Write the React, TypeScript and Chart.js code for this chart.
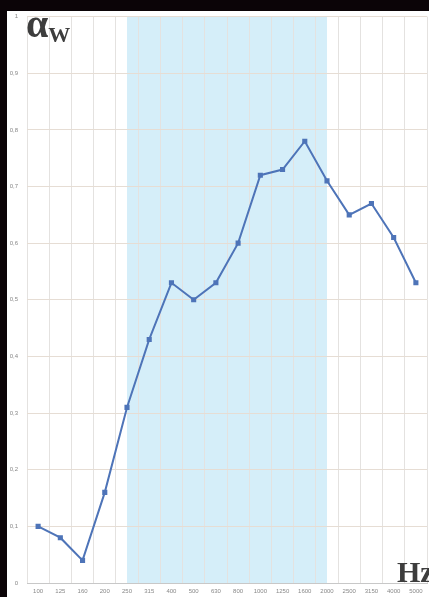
import React, { useEffect, useRef } from "react";
import { Chart, registerables } from "chart.js";

Chart.register(...registerables);

const categories = ["100", "125", "160", "200", "250", "315", "400", "500", "630", "800", "1000", "1250", "1600", "2000", "2500", "3150", "4000", "5000"];
const alphaValues = [0.10, 0.08, 0.04, 0.16, 0.31, 0.43, 0.53, 0.50, 0.53, 0.60, 0.72, 0.73, 0.78, 0.71, 0.65, 0.67, 0.61, 0.53];
const bandStart = "250";
const bandEnd = "2000";

const bandPlugin = {
  id: "band",
  beforeDraw(chart: any) {
    const { ctx, chartArea, scales } = chart;
    const x = scales.x;
    const x0 = x.getPixelForValue(categories.indexOf(bandStart));
    const x1 = x.getPixelForValue(categories.indexOf(bandEnd));
    ctx.save();
    ctx.fillStyle = "#d5eef9";
    ctx.fillRect(x0, chartArea.top, x1 - x0, chartArea.bottom - chartArea.top);
    ctx.restore();
  },
};

export default function App() {
  const ref = useRef<HTMLCanvasElement>(null);
  useEffect(() => {
    const chart = new Chart(ref.current!, {
      type: "line",
      data: {
        labels: categories,
        datasets: [
          {
            data: alphaValues,
            borderColor: "#4e74b8",
            backgroundColor: "#4e74b8",
            borderWidth: 2,
            pointStyle: "rect",
            pointRadius: 2.2,
            tension: 0,
          },
        ],
      },
      options: {
        animation: false,
        responsive: false,
        maintainAspectRatio: false,
        layout: { padding: { top: 0, right: 0, left: 0, bottom: 0 } },
        plugins: { legend: { display: false }, tooltip: { enabled: false } },
        scales: {
          x: {
            type: "category",
            offset: true,
            grid: { offset: true, color: "#e4e2e0", drawTicks: false },
            border: { color: "#c8c8c8" },
            ticks: {
              autoSkip: false,
              maxRotation: 0,
              minRotation: 0,
              padding: 5,
              color: "#888",
              font: { size: 6, family: "Liberation Sans" },
            },
            afterFit(s: any) { s.height = 14; },
          },
          y: {
            min: 0,
            max: 1,
            grid: { color: "#e6ddd4", drawTicks: false },
            border: { display: false },
            ticks: {
              stepSize: 0.1,
              padding: 9,
              color: "#888",
              font: { size: 6, family: "Liberation Sans" },
              callback: (v: any) => (Math.round(Number(v) * 10) / 10).toString().replace(".", ","),
            },
            afterFit(s: any) { s.width = 20; },
          },
        },
      },
      plugins: [bandPlugin],
    });
    return () => chart.destroy();
  }, []);

  return (
    <div style={{ position: "fixed", left: 0, top: 0, width: 429, height: 597, background: "#0b0407", overflow: "hidden" }}>
      <div style={{ position: "absolute", left: 7, top: 11, width: 422, height: 586, background: "#fff", overflow: "hidden" }}>
        <canvas ref={ref} width={426} height={593} style={{ display: "block", position: "absolute", left: 0, top: -7, width: 426, height: 593 }} />
        <div style={{ position: "absolute", left: 19, top: -11, fontFamily: "Liberation Serif", fontWeight: "bold", color: "#3d3d3d", whiteSpace: "nowrap" }}>
          <span style={{ fontSize: 40 }}>α</span>
          <span style={{ fontSize: 22, position: "relative", top: 5 }}>W</span>
        </div>
        <div style={{ position: "absolute", left: 390, top: 544, fontFamily: "Liberation Serif", fontWeight: "bold", fontSize: 30, color: "#3d3d3d", whiteSpace: "nowrap" }}>
          Hz
        </div>
      </div>
    </div>
  );
}
